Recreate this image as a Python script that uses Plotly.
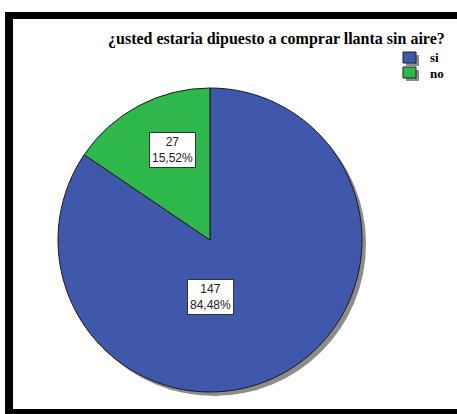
import plotly.graph_objects as go

# ---- data ----
categories = ["si", "no"]
counts = [147, 27]
colors = ["#3F58AB", "#2EB84B"]
title_text = "¿usted estaria dipuesto a comprar llanta sin aire?"

W, H = 457, 414
total = sum(counts)
pct_labels = [f"{c}<br>{c / total * 100:.2f}%".replace(".", ",") for c in counts]

def px(x):
    return x / W

def py(y):
    return 1 - y / H

# pie geometry (pixels)
cx, cy, r = 210, 240, 152
sh = 4  # shadow offset

fig = go.Figure()

# shadow
fig.add_trace(go.Pie(
    values=[1], labels=["shadow"], marker=dict(colors=["#8c8c8c"], line=dict(width=0)),
    domain=dict(x=[px(cx - r + sh), px(cx + r + sh)], y=[py(cy + r + sh), py(cy - r + sh)]),
    textinfo="none", hoverinfo="skip", showlegend=False, sort=False,
))

fig.add_trace(go.Pie(
    values=counts, labels=categories, sort=False, direction="clockwise", rotation=0,
    marker=dict(colors=colors, line=dict(color="#1a1a1a", width=1)),
    domain=dict(x=[px(cx - r), px(cx + r)], y=[py(cy + r), py(cy - r)]),
    textinfo="none", showlegend=False,
))

annotations = []
# slice labels (positions are layout choices)
label_pos = [(210, 297), (172, 150)]
for (lx, ly), t in zip(label_pos, pct_labels):
    annotations.append(dict(
        x=px(lx), y=py(ly), xref="paper", yref="paper", text=t, showarrow=False,
        font=dict(family="Arial, Liberation Sans", size=12, color="#222222"),
        bgcolor="white", bordercolor="#333333", borderwidth=1, borderpad=2,
        xanchor="center", yanchor="middle",
    ))

# title
annotations.append(dict(
    x=px(447), y=py(39), xref="paper", yref="paper", text=f"<b>{title_text}</b>", showarrow=False,
    font=dict(family="Liberation Serif, Times New Roman, serif", size=16, color="#000000"),
    xanchor="right", yanchor="middle",
))

shapes = []
# frame
shapes.append(dict(type="rect", xref="paper", yref="paper", x0=px(5), x1=px(W), y0=py(19), y1=py(12),
                   fillcolor="black", line=dict(width=0)))
shapes.append(dict(type="rect", xref="paper", yref="paper", x0=px(5), x1=px(13), y0=py(H), y1=py(12),
                   fillcolor="black", line=dict(width=0)))
shapes.append(dict(type="rect", xref="paper", yref="paper", x0=px(5), x1=px(W), y0=py(H), y1=py(409),
                   fillcolor="black", line=dict(width=0)))

# manual legend
leg_rows = [52, 67]
for (top, name, col) in zip(leg_rows, categories, colors):
    shapes.append(dict(type="rect", xref="paper", yref="paper",
                       x0=px(406), x1=px(419), y0=py(top + 14), y1=py(top + 3),
                       fillcolor="#8c8c8c", line=dict(width=0)))
    shapes.append(dict(type="rect", xref="paper", yref="paper",
                       x0=px(403), x1=px(416), y0=py(top + 11), y1=py(top),
                       fillcolor=col, line=dict(color="#222222", width=1)))
    annotations.append(dict(
        x=px(428), y=py(top + 6), xref="paper", yref="paper", text=f"<b>{name}</b>", showarrow=False,
        font=dict(family="Liberation Serif, Times New Roman, serif", size=13, color="#000000"),
        xanchor="left", yanchor="middle",
    ))

fig.update_layout(
    width=W, height=H, margin=dict(l=0, r=0, t=0, b=0),
    paper_bgcolor="white", plot_bgcolor="white",
    annotations=annotations, shapes=shapes, showlegend=False,
)

fig.write_html("out.html", config={"displayModeBar": False},
               post_script="document.body.style.margin='0';document.body.style.overflow='hidden';")
